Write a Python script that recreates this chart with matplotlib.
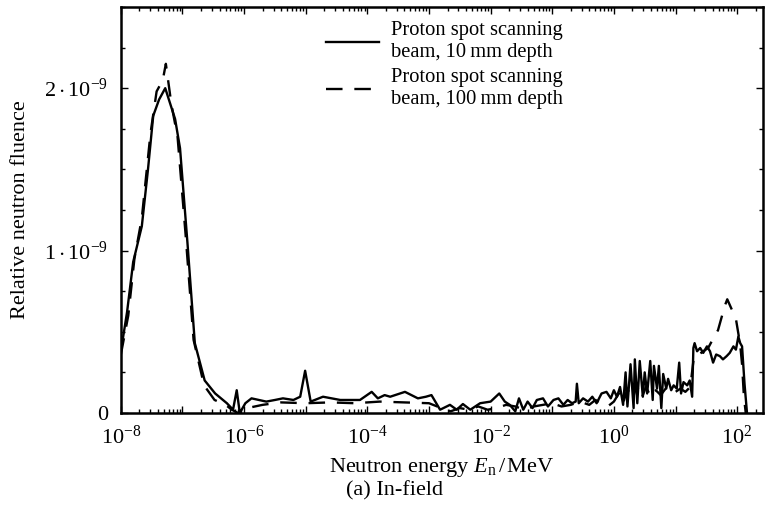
import numpy as np
import matplotlib
matplotlib.use("Agg")
import matplotlib.pyplot as plt
from matplotlib.ticker import FixedLocator, LogLocator, FuncFormatter, NullFormatter

# log10(E / MeV) and relative fluence (x 1e-9)
log_energy_10mm = [-8.00, -7.90, -7.80, -7.66, -7.56, -7.475, -7.38, -7.28, -7.12, -7.04,
                   -6.92, -6.80, -6.64, -6.47, -6.28, -6.18, -6.12, -6.07, -5.98, -5.88,
                   -5.64, -5.50, -5.37, -5.20, -5.09, -5.01, -4.92, -4.72, -4.58, -4.44,
                   -4.25, -4.12, -3.93, -3.83, -3.72, -3.63, -3.39, -3.18, -3.05, -2.96,
                   -2.82, -2.66, -2.55, -2.45, -2.33, -2.17, -2.00, -1.86, -1.77, -1.69,
                   -1.60, -1.54, -1.47, -1.40, -1.32, -1.25, -1.15, -1.07, -0.98, -0.90,
                   -0.82, -0.75, -0.68, -0.62, -0.60, -0.57, -0.50, -0.42, -0.35, -0.28,
                   -0.20, -0.12, -0.05, 0.00, 0.05, 0.10, 0.15, 0.19, 0.22, 0.27,
                   0.32, 0.34, 0.38, 0.42, 0.47, 0.50, 0.54, 0.59, 0.63, 0.65,
                   0.70, 0.73, 0.77, 0.80, 0.85, 0.88, 0.93, 0.97, 1.02, 1.06,
                   1.09, 1.13, 1.19, 1.23, 1.27, 1.29, 1.31, 1.35, 1.40, 1.45,
                   1.51, 1.56, 1.61, 1.66, 1.72, 1.77, 1.83, 1.88, 1.94, 1.98,
                   2.02, 2.05, 2.08, 2.12, 2.16]
fluence_10mm = [0.38, 0.62, 0.93, 1.15, 1.50, 1.83, 1.93, 2.00, 1.81, 1.63,
                1.05, 0.43, 0.20, 0.12, 0.06, 0.02, 0.14, 0.00, 0.06, 0.09,
                0.07, 0.08, 0.09, 0.08, 0.10, 0.26, 0.07, 0.10, 0.09, 0.08,
                0.08, 0.08, 0.13, 0.09, 0.11, 0.10, 0.13, 0.09, 0.10, 0.11,
                0.02, 0.05, 0.02, 0.055, 0.02, 0.06, 0.07, 0.12, 0.07, 0.05,
                0.01, 0.09, 0.02, 0.07, 0.03, 0.08, 0.09, 0.04, 0.08, 0.09,
                0.05, 0.08, 0.06, 0.07, 0.18, 0.06, 0.09, 0.07, 0.10, 0.06,
                0.12, 0.13, 0.09, 0.14, 0.10, 0.16, 0.05, 0.25, 0.04, 0.30,
                0.03, 0.33, 0.06, 0.32, 0.10, 0.25, 0.12, 0.32, 0.08, 0.29,
                0.15, 0.29, 0.03, 0.24, 0.15, 0.21, 0.14, 0.17, 0.15, 0.31,
                0.12, 0.19, 0.17, 0.20, 0.10, 0.40, 0.43, 0.38, 0.40, 0.37,
                0.41, 0.38, 0.31, 0.36, 0.35, 0.33, 0.35, 0.37, 0.41, 0.39,
                0.47, 0.43, 0.41, 0.18, 0.00]

log_energy_100mm = [-8.00, -7.88, -7.78, -7.66, -7.52, -7.42, -7.32, -7.27, -7.18, -7.08,
                    -6.95, -6.82, -6.65, -6.48, -6.30, -6.20, -6.10, -5.95, -5.70, -5.40,
                    -5.00, -4.60, -4.20, -3.80, -3.40, -3.00, -2.80, -2.65, -2.50, -2.35,
                    -2.20, -2.05, -1.90, -1.75, -1.60, -1.45, -1.30, -1.15, -1.00, -0.85,
                    -0.70, -0.55, -0.40, -0.30, -0.20, -0.10, 0.00, 0.08, 0.15, 0.22,
                    0.30, 0.37, 0.45, 0.52, 0.60, 0.68, 0.76, 0.84, 0.92, 1.00,
                    1.08, 1.16, 1.24, 1.30, 1.38, 1.45, 1.53, 1.60, 1.69, 1.80,
                    1.84, 1.91, 1.98, 2.05, 2.08, 2.11, 2.14]
fluence_100mm = [0.36, 0.60, 0.95, 1.20, 1.72, 1.98, 2.05, 2.15, 1.90, 1.70,
                 1.10, 0.45, 0.17, 0.08, 0.05, 0.02, 0.00, 0.03, 0.05, 0.065,
                 0.06, 0.065, 0.06, 0.07, 0.065, 0.06, 0.03, 0.01, 0.03, 0.02,
                 0.04, 0.02, 0.03, 0.05, 0.04, 0.02, 0.04, 0.05, 0.06, 0.04,
                 0.05, 0.07, 0.05, 0.08, 0.06, 0.04, 0.07, 0.12, 0.06, 0.15,
                 0.08, 0.17, 0.09, 0.16, 0.10, 0.14, 0.11, 0.15, 0.12, 0.13,
                 0.15, 0.13, 0.16, 0.35, 0.36, 0.38, 0.40, 0.45, 0.51, 0.66,
                 0.70, 0.64, 0.58, 0.42, 0.30, 0.10, 0.00]

label_10mm = "Proton spot scanning\nbeam, 10\u2009mm depth"
label_100mm = "Proton spot scanning\nbeam, 100\u2009mm depth"

plt.rcParams['font.family'] = ['Liberation Serif', 'DejaVu Serif']
plt.rcParams['mathtext.fontset'] = 'custom'
plt.rcParams['mathtext.rm'] = 'Liberation Serif'
plt.rcParams['mathtext.it'] = 'Liberation Serif:italic'
plt.rcParams['font.size'] = 16

fig = plt.figure(figsize=(7.65, 5.13), dpi=100)
ax = fig.add_axes([0.158, 0.195, 0.8394, 0.7914])

e10 = 10 ** np.array(log_energy_10mm)
e100 = 10 ** np.array(log_energy_100mm)
ax.plot(e10, np.array(fluence_10mm) * 1e-9, color='black', lw=1.7, label=label_10mm)
ax.plot(e100, np.array(fluence_100mm) * 1e-9, color='black', lw=1.7,
        dashes=(7, 5), label=label_100mm)

ax.set_xscale('log')
ax.set_xlim(1e-8, 10 ** 2.42)
ax.set_ylim(0, 2.5e-9)

ax.xaxis.set_major_locator(LogLocator(base=10, numticks=20))
ax.xaxis.set_major_formatter(FuncFormatter(
    lambda v, p: r'$10^{%d}$' % round(np.log10(v)) if round(np.log10(v)) % 2 == 0 else ''))
ax.xaxis.set_minor_locator(LogLocator(base=10, subs=np.arange(2, 10), numticks=20))
ax.xaxis.set_minor_formatter(NullFormatter())

ax.yaxis.set_major_locator(FixedLocator([0, 1e-9, 2e-9]))
ax.yaxis.set_major_formatter(FuncFormatter(
    lambda v, p: '0' if v == 0 else r'$%d\cdot10^{-9}$' % round(v * 1e9)))
ax.yaxis.set_minor_locator(FixedLocator(np.arange(0, 2.51e-9, 0.25e-9)))

ax.tick_params(which='both', direction='in', top=True, right=True, width=1.0)
ax.tick_params(axis='x', which='major', length=5, labelsize=16, pad=9)
ax.tick_params(axis='y', which='major', length=5, labelsize=16, pad=9)
ax.tick_params(which='minor', length=3)
for s in ax.spines.values():
    s.set_linewidth(1.8)

ax.set_xlabel(r'Neutron energy $E_\mathrm{n}\,/\,$MeV', fontsize=16, labelpad=5)
ax.set_ylabel('Relative neutron fluence', fontsize=16, labelpad=10)

ax.legend(loc='upper left', bbox_to_anchor=(0.29, 1.01), frameon=False,
          handlelength=2.6, handletextpad=0.6, labelspacing=0.3, fontsize=14.8)

fig.text(0.516, 0.043, '(a) In-field', ha='center', va='center', fontsize=16)

fig.savefig('out.png', dpi=100)
